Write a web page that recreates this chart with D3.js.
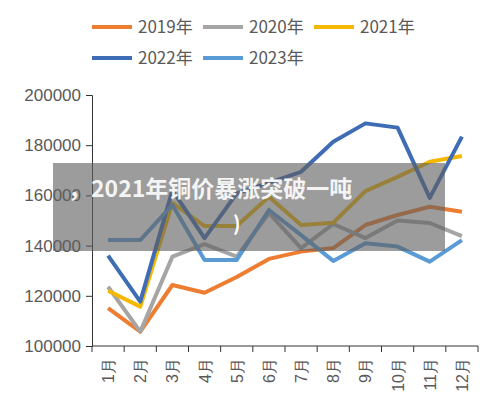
<!DOCTYPE html><html><head><meta charset="utf-8"><script src="https://cdn.jsdelivr.net/npm/d3@7"></script>
<style>body{margin:0;background:#fff}</style></head><body><svg id="c" width="500" height="414"></svg>
<script>
const months=["1月","2月","3月","4月","5月","6月","7月","8月","9月","10月","11月","12月"];
const years=["2019年","2020年","2021年","2022年","2023年"];
const colors=["#ed7d31","#a5a5a5","#f5b800","#3f6db5","#5b9bd5"];
const s2019=[115100,105700,124300,121200,127500,134700,137600,139000,148200,152200,155500,153500];
const s2020=[123600,105700,135600,140600,135600,153000,139000,148600,143000,150000,149000,143800];
const s2021=[122000,115700,157000,147800,147800,159500,148200,149100,161700,167400,173400,175700];
const s2022=[136000,117700,162000,143000,160800,165000,169400,181400,188700,187000,159000,183400];
const s2023=[142200,142200,156200,134300,134300,154200,144200,133900,140900,139600,133600,142200];
const yTicks=[100000,120000,140000,160000,180000,200000];
const series=[s2019,s2020,s2021,s2022,s2023];
const svg=d3.select("#c");
const x=d3.scaleBand().domain(months).range([92,478]);
const y=d3.scaleLinear().domain([100000,200000]).range([346,95]);
const font="Liberation Sans, Arial, sans-serif";
const ya=svg.append("g").attr("transform","translate(92,0)").call(d3.axisLeft(y).tickValues(yTicks).tickSize(6).tickFormat(d3.format("d")));
ya.selectAll("text").attr("font-size",17).attr("fill","#595959").attr("font-family",font).attr("dx",-2);
ya.selectAll("line").attr("stroke","#333");ya.select(".domain").attr("stroke","#333");
const xa=svg.append("g").attr("transform","translate(0,346)");
xa.append("line").attr("x1",92).attr("x2",478).attr("stroke","#333");
xa.selectAll("line.t").data(months.concat(["end"])).enter().append("line").attr("class","t")
 .attr("x1",(d,i)=>92+i*x.step()).attr("x2",(d,i)=>92+i*x.step()).attr("y1",0).attr("y2",6).attr("stroke","#333");
xa.selectAll("text").data(months).enter().append("text")
 .attr("transform",d=>`translate(${x(d)+x.bandwidth()/2+6},12) rotate(-90)`).attr("text-anchor","end")
 .attr("font-size",16).attr("fill","#595959").attr("font-family",font).text(d=>d);
const line=d3.line().x((d,i)=>x(months[i])+x.bandwidth()/2).y(d=>y(d));
series.forEach((s,k)=>svg.append("path").datum(s).attr("d",line).attr("fill","none").attr("stroke",colors[k]).attr("stroke-width",4).attr("stroke-linejoin","round"));
const lg=svg.append("g");
years.forEach((t,i)=>{const col=i%3,row=Math.floor(i/3);const lx=92+col*111,ly=27+row*31;
 lg.append("line").attr("x1",lx).attr("x2",lx+40).attr("y1",ly).attr("y2",ly).attr("stroke",colors[i]).attr("stroke-width",4);
 lg.append("text").attr("x",lx+46).attr("y",ly+6).attr("font-size",17).attr("fill","#595959").attr("font-family","Noto Sans CJK SC, sans-serif").text(t);});
svg.append("rect").attr("x",53).attr("y",163).attr("width",392).attr("height",88).attr("fill","rgba(95,95,95,0.62)");
const tf="Noto Sans CJK SC, sans-serif";
svg.append("text").attr("x",68).attr("y",197).attr("font-size",23).attr("font-weight","bold").attr("fill","#f4f4f4").attr("font-family",tf).text("，2021年铜价暴涨突破一吨");
svg.append("text").attr("x",233).attr("y",231).attr("font-size",20).attr("font-weight","bold").attr("fill","#fff").attr("font-family",tf).text(")");
</script></body></html>
